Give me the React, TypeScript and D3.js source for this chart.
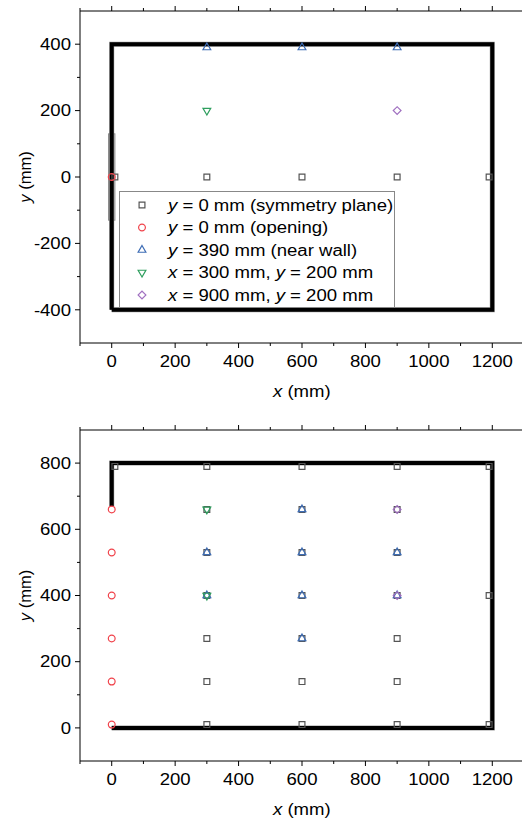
import React from "react";
import * as d3 from "d3";

// ---------- data ----------
const xTickValues = [0, 200, 400, 600, 800, 1000, 1200];
const xMinorValues = [-100, 100, 300, 500, 700, 900, 1100];
const topYTicks = [-400, -200, 0, 200, 400];
const topYMinor = [-300, -100, 100, 300];
const botYTicks = [0, 200, 400, 600, 800];
const botYMinor = [100, 300, 500, 700];

// top view (plan)
const topSymmetry: [number, number][] = [[10, 0], [300, 0], [600, 0], [900, 0], [1190, 0]];
const topOpening: [number, number][] = [[0, 0]];
const topNearWall: [number, number][] = [[300, 390], [600, 390], [900, 390]];
const topX300: [number, number][] = [[300, 200]];
const topX900: [number, number][] = [[900, 200]];
const topWall: [number, number][] = [[0, -400], [0, 400], [1200, 400], [1200, -400], [0, -400]];
const topOpeningBox: [number, number][] = [[-10, -130], [10, 130]];

// side view
const sideSymmetry: [number, number][] = [
  [10, 790],
  [300, 10], [300, 140], [300, 270], [300, 400], [300, 530], [300, 660], [300, 790],
  [600, 10], [600, 140], [600, 270], [600, 400], [600, 530], [600, 660], [600, 790],
  [900, 10], [900, 140], [900, 270], [900, 400], [900, 530], [900, 660], [900, 790],
  [1190, 10], [1190, 400], [1190, 790],
];
const sideOpening: [number, number][] = [[0, 10], [0, 140], [0, 270], [0, 400], [0, 530], [0, 660]];
const sideNearWall: [number, number][] = [
  [300, 400], [300, 530],
  [600, 270], [600, 400], [600, 530], [600, 660],
  [900, 400], [900, 530],
];
const sideX300: [number, number][] = [[300, 400], [300, 660]];
const sideX900: [number, number][] = [[900, 400], [900, 660]];
const sideWall: [number, number][] = [[0, 670], [0, 800], [1200, 800], [1200, 0], [0, 0]];

const legendLabels = [
  ["y", " = 0 mm (symmetry plane)"],
  ["y", " = 0 mm (opening)"],
  ["y", " = 390 mm (near wall)"],
  ["x", " = 300 mm, ", "y", " = 200 mm"],
  ["x", " = 900 mm, ", "y", " = 200 mm"],
];

// ---------- style ----------
const FONT = "'Liberation Sans', Arial, sans-serif";
const SX = 1.16;
const COLORS = ["#555555", "#f0424a", "#3e6db5", "#2e9e5e", "#a070c0"];
const KINDS = ["square", "circle", "up", "down", "diamond"];

const symPath = (kind: string) => {
  switch (kind) {
    case "square": return d3.symbol().type(d3.symbolSquare).size(34)()!;
    case "circle": return d3.symbol().type(d3.symbolCircle).size(36)()!;
    case "up": return d3.symbol().type(d3.symbolTriangle).size(26)()!;
    case "down": return d3.symbol().type(d3.symbolTriangle).size(26)()!;
    case "diamond": return d3.symbol().type(d3.symbolSquare).size(30)()!;
  }
  return "";
};
const symRot = (kind: string) => (kind === "down" ? 180 : kind === "diamond" ? 45 : 0);

const Marker = ({ x, y, kind, color }: { x: number; y: number; kind: string; color: string }) => (
  <path
    d={symPath(kind)}
    transform={`translate(${x},${y}) rotate(${symRot(kind)})`}
    fill="none"
    stroke={color}
    strokeWidth={1.2}
  />
);

const SText = ({ x, y, anchor = "start", children }: any) => (
  <g transform={`translate(${x},${y}) scale(${SX},1)`}>
    <text textAnchor={anchor} fontFamily={FONT} fontSize={16} fill="#000">
      {children}
    </text>
  </g>
);

const xScale = d3.scaleLinear().domain([-100, 1300]).range([80, 524]);

type PanelProps = {
  yDomain: [number, number];
  yRange: [number, number];
  yTicks: number[];
  yMinor: number[];
  series: [number, number][][];
  wall: [number, number][];
  box?: [number, number][];
  legend?: boolean;
};

const Panel = ({ yDomain, yRange, yTicks, yMinor, series, wall, box, legend }: PanelProps) => {
  const y = d3.scaleLinear().domain(yDomain).range(yRange);
  const bottom = yRange[0];
  const top = yRange[1];
  const left = 80;
  const right = 524;
  const line = d3
    .line<[number, number]>()
    .x((d) => xScale(d[0]))
    .y((d) => y(d[1]));
  const midY = (top + bottom) / 2;
  return (
    <g>
      {/* axes */}
      <line x1={left} x2={right} y1={bottom} y2={bottom} stroke="#000" strokeWidth={1} />
      <line x1={left} x2={right} y1={top} y2={top} stroke="#000" strokeWidth={1} />
      <line x1={left} x2={left} y1={top} y2={bottom} stroke="#000" strokeWidth={1} />
      {xTickValues.map((v) => (
        <g key={"xt" + v}>
          <line x1={xScale(v)} x2={xScale(v)} y1={bottom} y2={bottom + 5} stroke="#000" />
          <line x1={xScale(v)} x2={xScale(v)} y1={top} y2={top - 5} stroke="#000" />
          <SText x={xScale(v)} y={bottom + 24} anchor="middle">{String(v)}</SText>
        </g>
      ))}
      {xMinorValues.map((v) => (
        <g key={"xm" + v}>
          <line x1={xScale(v)} x2={xScale(v)} y1={bottom} y2={bottom + 3} stroke="#000" />
          <line x1={xScale(v)} x2={xScale(v)} y1={top} y2={top - 3} stroke="#000" />
        </g>
      ))}
      {yTicks.map((v) => (
        <g key={"yt" + v}>
          <line x1={left - 5} x2={left} y1={y(v)} y2={y(v)} stroke="#000" />
          <SText x={71} y={y(v) + 5.7} anchor="end">{String(v)}</SText>
        </g>
      ))}
      {yMinor.map((v) => (
        <line key={"ym" + v} x1={left - 3} x2={left} y1={y(v)} y2={y(v)} stroke="#000" />
      ))}
      <SText x={xScale(600) - 29} y={bottom + 54}>
        <tspan fontStyle="italic">x</tspan> (mm)
      </SText>
      <text
        transform={`translate(31,${midY}) rotate(-90)`}
        textAnchor="middle"
        fontFamily={FONT}
        fontSize={16.5}
      >
        <tspan fontStyle="italic">y</tspan> (mm)
      </text>

      {/* opening box */}
      {box && (
        <rect
          x={xScale(box[0][0])}
          y={y(box[1][1])}
          width={xScale(box[1][0]) - xScale(box[0][0])}
          height={y(box[0][1]) - y(box[1][1])}
          fill="#e4e4e4"
          stroke="#888"
          strokeWidth={1}
        />
      )}
      {/* walls */}
      <path d={line(wall)!} fill="none" stroke="#999" strokeWidth={5} strokeLinejoin="miter" />
      <path d={line(wall)!} fill="none" stroke="#000" strokeWidth={4} strokeLinejoin="miter" />

      {/* markers */}
      {series.map((s, i) =>
        s.map((d, j) => (
          <Marker key={i + "-" + j} x={xScale(d[0])} y={y(d[1])} kind={KINDS[i]} color={COLORS[i]} />
        ))
      )}

      {legend && (
        <g>
          <rect x={119.5} y={191.5} width={275} height={116} fill="#fff" stroke="#888" strokeWidth={1} />
          {legendLabels.map((parts, i) => {
            const ry = 205 + i * 22.5;
            return (
              <g key={"lg" + i}>
                <Marker x={142} y={ry} kind={KINDS[i]} color={COLORS[i]} />
                <SText x={168} y={ry + 5.7}>
                  {parts.map((p, k) =>
                    k % 2 === 0 ? (
                      <tspan key={k} fontStyle="italic">{p}</tspan>
                    ) : (
                      <tspan key={k}>{p}</tspan>
                    )
                  )}
                </SText>
              </g>
            );
          })}
        </g>
      )}
    </g>
  );
};

export default function App() {
  return (
    <svg
      width={522}
      height={818}
      style={{ position: "absolute", left: 0, top: 0, background: "#fff" }}
    >
      <rect x={0} y={0} width={522} height={818} fill="#fff" />
      <Panel
        yDomain={[-500, 500]}
        yRange={[343, 11]}
        yTicks={topYTicks}
        yMinor={topYMinor}
        series={[topSymmetry, topOpening, topNearWall, topX300, topX900]}
        wall={topWall}
        box={topOpeningBox}
        legend
      />
      <Panel
        yDomain={[-100, 900]}
        yRange={[761, 430]}
        yTicks={botYTicks}
        yMinor={botYMinor}
        series={[sideSymmetry, sideOpening, sideNearWall, sideX300, sideX900]}
        wall={sideWall}
      />
    </svg>
  );
}
